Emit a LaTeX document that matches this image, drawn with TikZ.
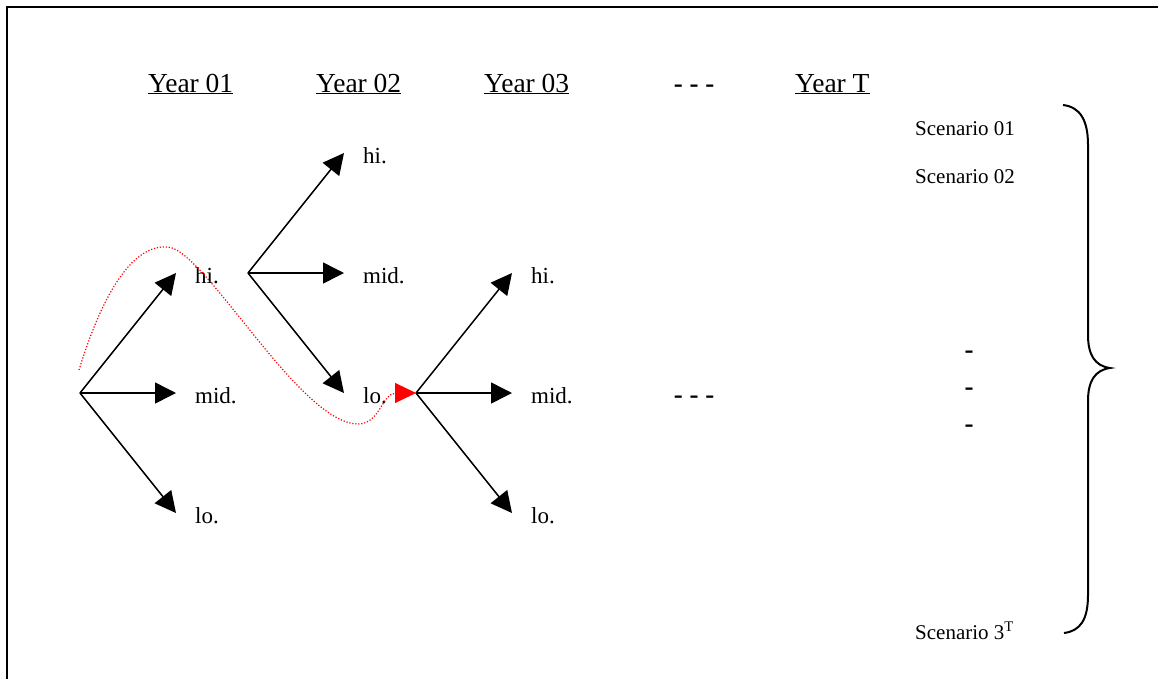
\documentclass[tikz,border=0pt]{standalone}
\usepackage{fontspec}
\setmainfont{Liberation Serif}
\usetikzlibrary{arrows.meta}
\begin{document}
\begin{tikzpicture}[x=1pt,y=-1pt,
  frameline/.style={line width=2pt},
  branch/.style={line width=1.5pt,-{Triangle[length=21pt,width=21pt]}},
  outcome/.style={anchor=west,inner xsep=19pt,inner ysep=0pt,text height=20pt,text depth=0pt,font=\fontsize{23}{26}\selectfont},
  header/.style={anchor=base west,inner sep=0pt,font=\fontsize{27.5}{31}\selectfont},
  scen/.style={anchor=base west,inner sep=0pt,font=\fontsize{21}{25}\selectfont},
  gap/.style={anchor=base,inner sep=0pt,font=\fontsize{27}{31}\selectfont\bfseries},
  pathline/.style={red,line width=1.2pt,dash pattern=on 1.2pt off 1.8pt},
  pathtip/.style={red,line width=1.2pt,-{Triangle[length=21pt,width=20pt]}},
  bracestyle/.style={line width=2pt}
]
\useasboundingbox (0,0) rectangle (1158,678);

% outer frame
\draw[frameline] (7,690) -- (7,7) -- (1170,7);

% column headers
\node[header] (y1) at (148,92) {\underline{Year 01}};
\node[header] (y2) at (316,92) {\underline{Year 02}};
\node[header] (y3) at (484,92) {\underline{Year 03}};
\node[gap]    (yd) at (694,92) {- - -};
\node[header] (yT) at (795,92) {\underline{Year T}};

% branching points
\coordinate (r1) at (80,393);
\coordinate (r2) at (248,273);
\coordinate (r3) at (416,393);

% outcomes, year 1
\node[outcome] (h1) at (176,273) {hi.};
\node[outcome] (m1) at (176,393) {mid.};
\node[outcome] (l1) at (176,513) {lo.};
% outcomes, year 2 (after hi.)
\node[outcome] (h2) at (344,153) {hi.};
\node[outcome] (m2) at (344,273) {mid.};
\node[outcome] (l2) at (344,393) {lo.};
% outcomes, year 3 (after lo.)
\node[outcome] (h3) at (512,273) {hi.};
\node[outcome] (m3) at (512,393) {mid.};
\node[outcome] (l3) at (512,513) {lo.};

\draw[branch] (r1) -- (h1.west);
\draw[branch] (r1) -- (m1.west);
\draw[branch] (r1) -- (l1.west);
\draw[branch] (r2) -- (h2.west);
\draw[branch] (r2) -- (m2.west);
\draw[branch] (r2) -- (l2.west);
\draw[branch] (r3) -- (h3.west);
\draw[branch] (r3) -- (m3.west);
\draw[branch] (r3) -- (l3.west);

\node[gap] (md) at (694,403) {- - -};

% one scenario path through the tree
\coordinate (p0) at (79,370);
\coordinate (p1) at (168,247);
\coordinate (p2) at (358,424);
\coordinate (p3) at (396,393);
\draw[pathline] (p0) .. controls (103,292) and (133,244) .. (p1)
  .. controls (205,250) and (300,424) .. (p2)
  .. controls (380,424) and (382,393) .. (p3);
\draw[pathtip] (p3) -- (r3);

% scenario list
\node[scen] (s1) at (915,135) {Scenario 01};
\node[scen] (s2) at (915,183) {Scenario 02};
\node[gap]  (v1) at (969,358) {-};
\node[gap]  (v2) at (969,395) {-};
\node[gap]  (v3) at (969,432) {-};
\node[scen] (sT) at (915,639) {Scenario 3\textsuperscript{T}};

% brace grouping the scenarios
\draw[bracestyle] (1063,105) .. controls (1080,107) and (1088,120) .. (1088,145)
  -- (1088,335) .. controls (1088,355) and (1095,366) .. (1110,368)
  .. controls (1095,370) and (1088,381) .. (1088,401)
  -- (1088,595) .. controls (1088,620) and (1080,631) .. (1064,633);
\end{tikzpicture}
\end{document}
